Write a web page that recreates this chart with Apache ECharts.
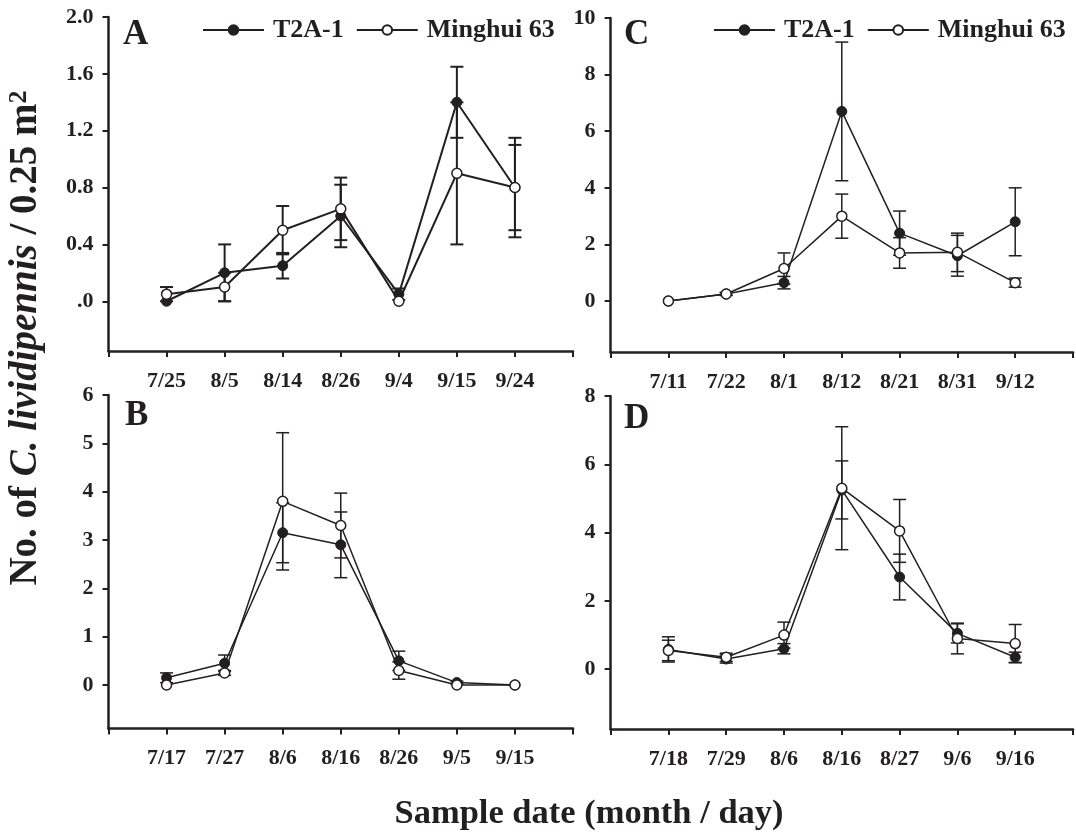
<!DOCTYPE html>
<html>
<head>
<meta charset="UTF-8">
<title>C. lividipennis sample dates</title>
<script src="https://cdn.jsdelivr.net/npm/echarts@6.0.0/dist/echarts.min.js"></script>
<style>
  html, body { margin: 0; padding: 0; background: #fff; }
  #chart { width: 1076px; height: 833px; }
</style>
</head>
<body>
<div id="chart"></div>
<script>
// panel A
const aDates = ['7/25', '8/5', '8/14', '8/26', '9/4', '9/15', '9/24'];
const aT2A = [0, 0.2, 0.25, 0.6, 0.05, 1.4, 0.8];
const aT2AErr = [0, 0.2, 0.09, 0.22, 0.04, 0.25, 0.35];
const aMh = [0.05, 0.1, 0.5, 0.65, 0, 0.9, 0.8];
const aMhErr = [0.05, 0.1, 0.17, 0.22, 0, 0.5, 0.3];
const aTicks = [0, 0.4, 0.8, 1.2, 1.6, 2.0];

// panel B
const bDates = ['7/17', '7/27', '8/6', '8/16', '8/26', '9/5', '9/15'];
const bT2A = [0.15, 0.45, 3.15, 2.9, 0.5, 0.05, 0];
const bT2AErr = [0.1, 0.17, 0.62, 0.68, 0.2, 0.03, 0];
const bMh = [0, 0.25, 3.8, 3.3, 0.3, 0, 0];
const bMhErr = [0, 0.05, 1.42, 0.67, 0.18, 0, 0];
const bTicks = [0, 1, 2, 3, 4, 5, 6];

// panel C
const cDates = ['7/11', '7/22', '8/1', '8/12', '8/21', '8/31', '9/12'];
const cT2A = [0, 0.25, 0.65, 6.7, 2.4, 1.6, 2.8];
const cT2AErr = [0, 0.05, 0.22, 2.45, 0.78, 0.72, 1.2];
const cMh = [0, 0.25, 1.15, 3.0, 1.7, 1.72, 0.65];
const cMhErr = [0, 0.05, 0.55, 0.78, 0.54, 0.68, 0.16];
const cTicks = [0, 2, 4, 6, 8, 10];

// panel D
const dDates = ['7/18', '7/29', '8/6', '8/16', '8/27', '9/6', '9/16'];
const dT2A = [0.58, 0.3, 0.6, 5.25, 2.7, 1.05, 0.35];
const dT2AErr = [0.37, 0.12, 0.15, 0.85, 0.67, 0.28, 0.15];
const dMh = [0.55, 0.35, 1.0, 5.3, 4.05, 0.9, 0.75];
const dMhErr = [0.3, 0.12, 0.38, 1.8, 0.92, 0.45, 0.56];
const dTicks = [0, 2, 4, 6, 8];

const INK = '#231f20';
const FONT = '"Liberation Serif", "Times New Roman", serif';

const panels = [
  { dates: aDates, t2a: aT2A, t2aErr: aT2AErr, mh: aMh, mhErr: aMhErr, ticks: aTicks, min: -0.35,
    grid: { left: 108.5, top: 17, width: 464.5, height: 334 }, lw: 2,
    fmt: v => v === 0 ? '.0' : v.toFixed(1) },
  { dates: bDates, t2a: bT2A, t2aErr: bT2AErr, mh: bMh, mhErr: bMhErr, ticks: bTicks, min: -0.9,
    grid: { left: 108.5, top: 395, width: 464.5, height: 333.5 }, lw: 1.5, fmt: v => String(v) },
  { dates: cDates, t2a: cT2A, t2aErr: cT2AErr, mh: cMh, mhErr: cMhErr, ticks: cTicks, min: -1.8,
    grid: { left: 610.6, top: 18, width: 464.4, height: 334 }, lw: 1.5, fmt: v => String(v) },
  { dates: dDates, t2a: dT2A, t2aErr: dT2AErr, mh: dMh, mhErr: dMhErr, ticks: dTicks, min: -1.75,
    grid: { left: 610.6, top: 396, width: 464.4, height: 333 }, lw: 1.5, fmt: v => String(v) }
];

// vertical error bar with caps
function errorBar(lw) {
  return function (params, api) {
    const x = api.value(0), y = api.value(1), e = api.value(2);
    if (!e) return null;
    const hi = api.coord([x, y + e]);
    const lo = api.coord([x, y - e]);
    const w = 6.5;
    const st = { stroke: INK, lineWidth: lw };
    return {
      type: 'group',
      children: [
        { type: 'line', shape: { x1: hi[0], y1: hi[1], x2: lo[0], y2: lo[1] }, style: st },
        { type: 'line', shape: { x1: hi[0] - w, y1: hi[1], x2: hi[0] + w, y2: hi[1] }, style: st },
        { type: 'line', shape: { x1: lo[0] - w, y1: lo[1], x2: lo[0] + w, y2: lo[1] }, style: st }
      ]
    };
  };
}

const grid = [], xAxis = [], yAxis = [], series = [];
panels.forEach((p, i) => {
  grid.push(p.grid);
  xAxis.push({
    type: 'value', gridIndex: i, min: 0, max: 8, interval: 1,
    axisLine: { show: true, onZero: false, lineStyle: { color: INK, width: 2.5 } },
    axisTick: { show: true, length: 6, lineStyle: { color: INK, width: 2 } },
    axisLabel: {
      margin: 19, color: INK, fontFamily: FONT, fontWeight: 'bold', fontSize: 22,
      formatter: v => (v >= 1 && v <= 7) ? p.dates[v - 1] : ''
    },
    splitLine: { show: false }
  });
  yAxis.push({
    type: 'value', gridIndex: i, min: p.min, max: p.ticks[p.ticks.length - 1],
    axisLine: { show: true, onZero: false, lineStyle: { color: INK, width: 2.5 } },
    axisTick: { show: true, length: 6, customValues: p.ticks, lineStyle: { color: INK, width: 2 } },
    axisLabel: {
      margin: 15, color: INK, fontFamily: FONT, fontWeight: 'bold', fontSize: 22,
      customValues: p.ticks, formatter: p.fmt
    },
    splitLine: { show: false }
  });
  const toPts = arr => arr.map((v, k) => [k + 1, v]);
  const toErr = (arr, err) => arr.map((v, k) => [k + 1, v, err[k]]);
  series.push({
    type: 'custom', xAxisIndex: i, yAxisIndex: i, z: 1, silent: true,
    renderItem: errorBar(p.lw), data: toErr(p.t2a, p.t2aErr)
  });
  series.push({
    type: 'custom', xAxisIndex: i, yAxisIndex: i, z: 1, silent: true,
    renderItem: errorBar(p.lw), data: toErr(p.mh, p.mhErr)
  });
  series.push({
    name: 'T2A-1', type: 'line', xAxisIndex: i, yAxisIndex: i, z: 3,
    data: toPts(p.t2a), symbol: 'circle', symbolSize: 10,
    lineStyle: { color: INK, width: p.lw },
    itemStyle: { color: INK, borderColor: INK, borderWidth: 1 }
  });
  series.push({
    name: 'Minghui 63', type: 'line', xAxisIndex: i, yAxisIndex: i, z: 4,
    data: toPts(p.mh), symbol: 'circle', symbolSize: 10,
    lineStyle: { color: INK, width: p.lw },
    itemStyle: { color: '#fff', borderColor: INK, borderWidth: 1.5 }
  });
});

const legendBase = {
  data: ['T2A-1', 'Minghui 63'], orient: 'horizontal', top: 12,
  itemWidth: 61, itemHeight: 12, itemGap: 12, selectedMode: false,
  textStyle: { color: INK, fontFamily: FONT, fontWeight: 'bold', fontSize: 26, padding: [0, 0, 0, 4] }
};

const letterStyle = { color: INK, fontFamily: FONT, fontWeight: 'bold', fontSize: 35 };

const chart = echarts.init(document.getElementById('chart'), null, { renderer: 'canvas' });
chart.setOption({
  animation: false,
  backgroundColor: '#fff',
  grid, xAxis, yAxis, series,
  legend: [
    Object.assign({}, legendBase, { left: 197 }),
    Object.assign({}, legendBase, { left: 708 })
  ],
  title: [
    { text: 'A', left: 118, top: 12, textStyle: letterStyle },
    { text: 'C', left: 619, top: 12, textStyle: letterStyle },
    { text: 'B', left: 120, top: 393, textStyle: letterStyle },
    { text: 'D', left: 619, top: 396, textStyle: letterStyle }
  ],
  graphic: [
    {
      type: 'text', x: 26, y: 338, rotation: Math.PI / 2,
      style: {
        text: '{a|No. of }{b|C. lividipennis}{a| / 0.25 m}{s|2}',
        align: 'center', verticalAlign: 'middle', fill: INK,
        rich: {
          a: { fontFamily: FONT, fontWeight: 'bold', fontSize: 39, fill: INK },
          b: { fontFamily: FONT, fontWeight: 'bold', fontStyle: 'italic', fontSize: 39, fill: INK },
          s: { fontFamily: FONT, fontWeight: 'bold', fontSize: 26, fill: INK, verticalAlign: 'top' }
        }
      }
    },
    {
      type: 'text', x: 589, y: 814,
      style: {
        text: 'Sample date (month / day)', align: 'center', verticalAlign: 'middle',
        fill: INK, font: 'bold 34.5px ' + FONT
      }
    }
  ]
});
</script>
</body>
</html>
